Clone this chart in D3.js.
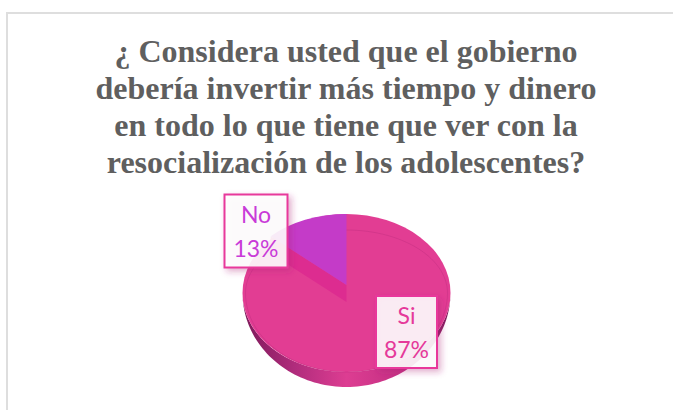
<!DOCTYPE html>
<html>
<head>
<meta charset="utf-8">
<script src="https://cdn.jsdelivr.net/npm/d3@7"></script>
<style>
  html, body { margin: 0; padding: 0; background: #fff; }
</style>
</head>
<body>
<div id="chart"></div>
<script>
const categories = ['Si', 'No'];
const values = [87, 13];
const percentLabels = ['87%', '13%'];
const titleLines = [
  '¿ Considera usted que el gobierno',
  'debería invertir más tiempo y dinero',
  'en todo lo que tiene que ver con la',
  'resocialización de los adolescentes?'
];

const width = 673;
const height = 410;

const cx = 346.5;
const cy = 293;      // centre of the top face
const rx = 104;
const ry = 79;
const depth = 15;    // height of the side wall
const notch = { cy: 285, ry: 71, drop: 17 }; // the cut out wedge sits a bit apart

const svg = d3.select('#chart')
  .append('svg')
  .attr('width', width)
  .attr('height', height)
  .style('display', 'block');

const defs = svg.append('defs');

const sideGrad = defs.append('linearGradient').attr('id', 'side');
sideGrad.append('stop').attr('offset', '0%').attr('stop-color', '#7d1a5a');
sideGrad.append('stop').attr('offset', '25%').attr('stop-color', '#b02c7c');
sideGrad.append('stop').attr('offset', '50%').attr('stop-color', '#dd3d92');
sideGrad.append('stop').attr('offset', '78%').attr('stop-color', '#c22f82');
sideGrad.append('stop').attr('offset', '100%').attr('stop-color', '#7d1a5a');

const shadow = defs.append('filter').attr('id', 'boxShadow')
  .attr('x', '-30%').attr('y', '-30%').attr('width', '160%').attr('height', '160%');
shadow.append('feDropShadow')
  .attr('dx', 3).attr('dy', 3).attr('stdDeviation', 3)
  .attr('flood-color', '#b02a7c').attr('flood-opacity', 0.4);

// chart frame, only top and left are visible
svg.append('path')
  .attr('d', d3.line()([[7, height], [7, 13], [width, 13]]))
  .attr('fill', 'none')
  .attr('stroke', '#dedede')
  .attr('stroke-width', 2);

// title
svg.append('g')
  .selectAll('text')
  .data(titleLines)
  .enter()
  .append('text')
  .attr('x', 346)
  .attr('y', (d, i) => 62 + i * 37)
  .attr('text-anchor', 'middle')
  .attr('font-family', '"Liberation Serif", serif')
  .attr('font-weight', 'bold')
  .attr('font-size', 32)
  .attr('fill', '#5f5f5f')
  .text(d => d);

const pie = d3.pie().sort(null).value(d => d);
const slices = pie(values);
const noSlice = slices[1];

// point on an ellipse, angle measured clockwise from 12 o'clock like d3.arc
const onEllipse = (a, y0, ryy) => [cx + rx * Math.sin(a), y0 - ryy * Math.cos(a)];

// side wall below the top face, tapers out towards the sides
const frontAngles = d3.range(90, 270.5, 2).map(d => d * Math.PI / 180);
svg.append('path')
  .attr('d', d3.area()
    .x(a => cx + rx * Math.sin(a))
    .y0(a => cy - ry * Math.cos(a))
    .y1(a => cy - (ry + depth) * Math.cos(a))(frontAngles))
  .attr('fill', 'url(#side)');

// top face
const unitArc = d3.arc().innerRadius(0).outerRadius(1);
svg.append('path')
  .attr('d', unitArc({ startAngle: 0, endAngle: 2 * Math.PI }))
  .attr('transform', `translate(${cx},${cy}) scale(${rx},${ry})`)
  .attr('fill', '#e23d93');

// thin bevel line on the top face
const bevelAngles = d3.range(0, 360.5, 3).map(d => d * Math.PI / 180);
svg.append('path')
  .attr('d', d3.line()
    .x(a => cx + (rx - 3) * Math.sin(a))
    .y(a => cy - (Math.cos(a) > 0 ? 63 : ry) * Math.cos(a))(bevelAngles))
  .attr('fill', 'none')
  .attr('stroke', '#b82a7c')
  .attr('stroke-opacity', 0.45)
  .attr('stroke-width', 0.8);

// inner wall of the notch
const edgeAngle = noSlice.startAngle;
svg.append('path')
  .attr('d', d3.line()([
    [cx, notch.cy],
    onEllipse(edgeAngle, notch.cy, notch.ry),
    onEllipse(edgeAngle, notch.cy + notch.drop, notch.ry),
    [cx, notch.cy + notch.drop]
  ]) + 'Z')
  .attr('fill', '#dd2c90');

// "No" wedge
svg.append('path')
  .attr('d', unitArc(noSlice))
  .attr('transform', `translate(${cx},${notch.cy}) scale(${rx},${notch.ry})`)
  .attr('fill', '#c43bc8');

// data labels
const labelBoxes = [
  { x: 376, y: 296, w: 61, h: 72, color: '#e5399a' },
  { x: 224.5, y: 194.5, w: 63, h: 73, color: '#c93bd8' }
];
const borderColor = '#e8389b';

const labels = svg.append('g')
  .selectAll('g')
  .data(categories)
  .enter()
  .append('g');

labels.append('rect')
  .attr('x', (d, i) => labelBoxes[i].x)
  .attr('y', (d, i) => labelBoxes[i].y)
  .attr('width', (d, i) => labelBoxes[i].w)
  .attr('height', (d, i) => labelBoxes[i].h)
  .attr('fill', '#fff')
  .attr('fill-opacity', 0.88)
  .attr('stroke', borderColor)
  .attr('stroke-width', 2)
  .attr('filter', 'url(#boxShadow)');

labels.append('text')
  .attr('x', (d, i) => labelBoxes[i].x + labelBoxes[i].w / 2)
  .attr('y', (d, i) => labelBoxes[i].y + 28)
  .attr('text-anchor', 'middle')
  .attr('font-family', 'Lato, sans-serif')
  .attr('font-size', 23)
  .attr('fill', (d, i) => labelBoxes[i].color)
  .text(d => d);

labels.append('text')
  .attr('x', (d, i) => labelBoxes[i].x + labelBoxes[i].w / 2)
  .attr('y', (d, i) => labelBoxes[i].y + 62)
  .attr('text-anchor', 'middle')
  .attr('font-family', 'Lato, sans-serif')
  .attr('font-size', 23)
  .attr('fill', (d, i) => labelBoxes[i].color)
  .text((d, i) => percentLabels[i]);
</script>
</body>
</html>
